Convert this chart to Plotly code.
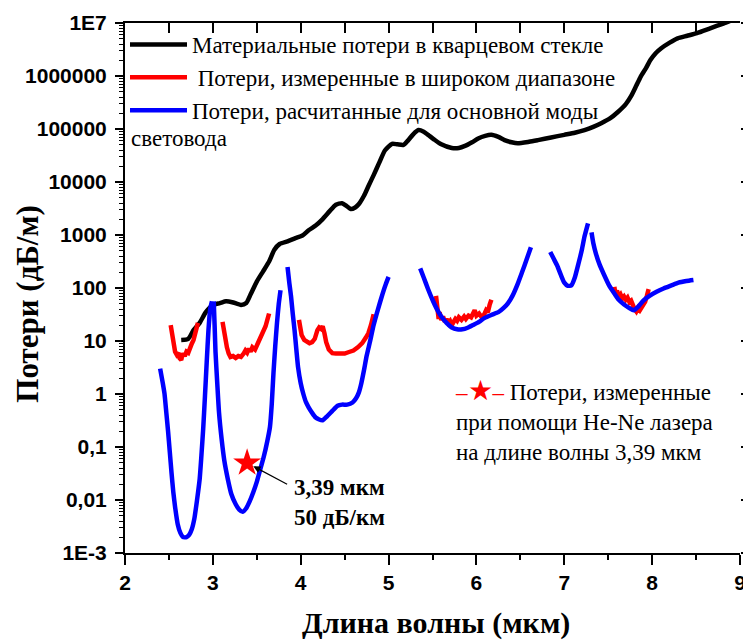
import plotly.graph_objects as go

# ---------------- data ----------------
# Material losses in silica glass (dB/m)
black_x = [2.64, 2.72, 2.78, 2.85, 2.92, 3.00, 3.08, 3.15, 3.22, 3.32, 3.38, 3.43, 3.50, 3.57,
           3.64, 3.70, 3.76, 3.85, 3.94, 4.02, 4.09, 4.17, 4.25, 4.33, 4.40, 4.47, 4.52, 4.57,
           4.62, 4.66, 4.72, 4.77, 4.83, 4.89, 4.96, 5.04, 5.10, 5.17, 5.22, 5.28, 5.34, 5.40,
           5.45, 5.52, 5.60, 5.72, 5.80, 5.87, 5.95, 6.02, 6.10, 6.17, 6.25, 6.32, 6.40, 6.47,
           6.60, 6.70, 6.85, 7.00, 7.12, 7.23, 7.33, 7.42, 7.52, 7.61, 7.70, 7.76, 7.82, 7.87,
           7.93, 7.98, 8.04, 8.10, 8.20, 8.29, 8.40, 8.51, 8.66, 8.81, 8.92]
black_y = [10.5, 11, 16, 22, 35, 48, 52, 56, 54, 48, 52, 76, 132, 204,
           316, 525, 676, 759, 871, 977, 1230, 1510, 2000, 2820, 3720, 3980, 3550, 3090,
           3310, 3800, 5500, 8300, 13500, 22400, 39800, 52500, 51300, 50100, 60300, 79400, 95500, 89100,
           77600, 63100, 51300, 43700, 43700, 47900, 56200, 66100, 74100, 77600, 70800, 61700, 56200, 53700,
           57500, 61700, 69200, 77600, 85100, 95500, 110000, 129000, 158000, 209000, 295000, 417000, 661000, 977000,
           1410000, 2000000, 2690000, 3310000, 4270000, 5130000, 5750000, 6460000, 7940000, 9770000, 11500000]

# Losses measured over a wide range (dB/m), five separate bands
red_x1 = [2.52, 2.53, 2.54, 2.55, 2.57, 2.59, 2.61, 2.62, 2.64, 2.65, 2.66, 2.68, 2.70, 2.72, 2.74, 2.76, 2.78, 2.80, 2.82, 2.83]
red_y1 = [20, 16, 11, 7.9, 6.3, 5.5, 6.0, 4.8, 4.4, 5.2, 5.8, 5.2, 6.3, 6.0, 7.9, 8.9, 10.5, 14, 19, 22]
red_x2 = [3.11, 3.12, 3.14, 3.16, 3.18, 3.20, 3.23, 3.26, 3.29, 3.32, 3.35, 3.37, 3.39, 3.41, 3.43, 3.45, 3.48, 3.51, 3.54, 3.57, 3.60, 3.62, 3.64]
red_y2 = [23, 18, 11, 7.6, 5.8, 5.0, 5.2, 4.8, 5.2, 5.0, 5.8, 6.6, 6.0, 7.2, 6.3, 7.6, 6.9, 8.9, 11, 14, 19, 25, 33]
red_x3 = [3.98, 3.99, 4.01, 4.04, 4.07, 4.10, 4.13, 4.16, 4.19, 4.21, 4.23, 4.25, 4.27, 4.29, 4.32, 4.36, 4.40, 4.45,
          4.50, 4.55, 4.60, 4.65, 4.70, 4.74, 4.77, 4.80, 4.82, 4.83]
red_y3 = [25, 18, 13, 10.5, 9.5, 9.1, 9.5, 11, 16, 18, 17, 19, 14, 9.5, 6.9, 5.9, 5.8, 5.9,
          5.8, 6.2, 6.6, 7.6, 9.1, 11.5, 14, 20, 26, 32]
red_x4 = [5.54, 5.55, 5.56, 5.57, 5.58, 5.60, 5.62, 5.64, 5.66, 5.68, 5.70, 5.72, 5.74, 5.76, 5.78, 5.80,
          5.83, 5.86, 5.88, 5.91, 5.94, 5.96, 5.98, 6.00, 6.03, 6.06, 6.09, 6.11, 6.13, 6.15, 6.17]
red_y4 = [71, 45, 32, 26, 35, 25, 29, 23, 26, 22, 24, 20, 23, 26, 24, 28,
          25, 29, 26, 30, 28, 33, 38, 30, 33, 28, 32, 38, 35, 48, 60]
red_x5 = [7.57, 7.58, 7.60, 7.62, 7.64, 7.66, 7.68, 7.70, 7.72, 7.74, 7.76, 7.78, 7.80, 7.82, 7.84, 7.86,
          7.88, 7.90, 7.92, 7.94, 7.96]
red_y5 = [105, 79, 89, 69, 76, 63, 69, 60, 66, 55, 58, 46, 40, 36, 42, 38,
          44, 50, 55, 71, 95]

# Losses calculated for the fundamental mode of the fibre (dB/m)
blue_x1 = [2.40, 2.43, 2.45, 2.47, 2.49, 2.51, 2.53, 2.55, 2.57, 2.60, 2.63, 2.66, 2.70, 2.73, 2.76, 2.79,
           2.82, 2.85, 2.87, 2.89, 2.91, 2.93, 2.95, 2.97, 2.99]
blue_y1 = [3.0, 1.6, 1.0, 0.45, 0.2, 0.08, 0.032, 0.014, 0.0074, 0.0035, 0.0024, 0.002, 0.002, 0.0022, 0.0028, 0.0045,
           0.01, 0.025, 0.07, 0.22, 0.9, 4, 16, 40, 56]
blue_x2 = [3.01, 3.02, 3.03, 3.05, 3.07, 3.10, 3.13, 3.17, 3.21, 3.26, 3.30, 3.34, 3.38, 3.42, 3.46, 3.50,
           3.54, 3.58, 3.62, 3.65, 3.67, 3.69, 3.71, 3.73, 3.75, 3.77]
blue_y2 = [56, 20, 6.3, 1.6, 0.45, 0.14, 0.056, 0.025, 0.013, 0.0083, 0.0066, 0.006, 0.007, 0.0095, 0.014, 0.022,
           0.038, 0.066, 0.13, 0.24, 0.63, 2.5, 8, 22, 50, 91]
blue_x3 = [3.85, 3.87, 3.89, 3.91, 3.93, 3.95, 3.97, 4.00, 4.03, 4.06, 4.09, 4.13, 4.17, 4.21, 4.25, 4.30,
           4.36, 4.42, 4.47, 4.53, 4.59, 4.63, 4.66, 4.69, 4.72, 4.75, 4.79, 4.83, 4.88, 4.93, 4.97, 5.00]
blue_y3 = [250, 126, 69, 32, 16, 7, 3.2, 1.6, 1.0, 0.7, 0.56, 0.44, 0.36, 0.33, 0.32, 0.38,
           0.48, 0.6, 0.63, 0.63, 0.69, 0.83, 1.05, 1.6, 2.8, 5.2, 10, 20, 40, 76, 120, 162]
blue_x4 = [5.36, 5.40, 5.45, 5.50, 5.55, 5.60, 5.66, 5.72, 5.78, 5.84, 5.90, 5.96, 6.03, 6.09, 6.17, 6.25,
           6.31, 6.36, 6.41, 6.47, 6.52, 6.57, 6.62]
blue_y4 = [234, 158, 95, 60, 40, 29, 22, 18, 16.6, 16.6, 17.8, 20, 23, 27, 31, 35,
           42, 52, 71, 120, 200, 340, 590]
blue_x5 = [6.84, 6.88, 6.92, 6.96, 7.00, 7.04, 7.08, 7.12, 7.16, 7.20, 7.23, 7.27]
blue_y5 = [480, 355, 263, 178, 126, 110, 112, 158, 282, 525, 933, 1660]
blue_x6 = [7.31, 7.33, 7.36, 7.40, 7.45, 7.51, 7.57, 7.62, 7.68, 7.74, 7.79, 7.85, 7.90, 7.97, 8.05, 8.13,
           8.22, 8.30, 8.39, 8.47]
blue_y6 = [1120, 708, 447, 282, 182, 112, 79, 60, 49, 42, 38, 46, 58, 71, 85, 98,
           112, 126, 135, 141]

# He-Ne laser measurement
star_x = [3.39]
star_y = [0.05]

y_tickvals = [1e-3, 1e-2, 1e-1, 1, 10, 100, 1000, 1e4, 1e5, 1e6, 1e7]
y_ticktext = ["1E-3", "0,01", "0,1", "1", "10", "100", "1000", "10000", "100000", "1000000", "1E7"]

names = ["Материальные потери в кварцевом стекле",
         "\u00a0Потери, измеренные в широком диапазоне",
         "Потери, расчитанные для основной моды"]


def join(segs):
    xs, ys = [], []
    for sx, sy in segs:
        if xs:
            xs.append(None)
            ys.append(None)
        xs += sx
        ys += sy
    return xs, ys


rx, ry = join([(red_x1, red_y1), (red_x2, red_y2), (red_x3, red_y3), (red_x4, red_y4), (red_x5, red_y5)])
bx, by = join([(blue_x1, blue_y1), (blue_x2, blue_y2), (blue_x3, blue_y3), (blue_x4, blue_y4),
               (blue_x5, blue_y5), (blue_x6, blue_y6)])

SERIF = "Liberation Serif"
SANS = "Liberation Sans"

fig = go.Figure()
fig.add_trace(go.Scatter(x=black_x, y=black_y, mode="lines", name=names[0],
                         line=dict(color="#000000", width=4.5, shape="spline", smoothing=0.6)))
fig.add_trace(go.Scatter(x=rx, y=ry, mode="lines", name=names[1], connectgaps=False,
                         line=dict(color="#ff0000", width=4.5)))
fig.add_trace(go.Scatter(x=bx, y=by, mode="lines", name=names[2], connectgaps=False,
                         line=dict(color="#0000ff", width=4.5, shape="spline", smoothing=0.5)))
fig.add_trace(go.Scatter(x=star_x, y=star_y, mode="markers", showlegend=False,
                         marker=dict(symbol="star", size=21, color="#ff0000", line=dict(width=0))))
# helper trace for the mirrored top/right axes
fig.add_trace(go.Scatter(x=[], y=[], xaxis="x2", yaxis="y2", showlegend=False, hoverinfo="skip"))

fig.update_layout(
    width=743, height=635,
    margin=dict(l=117, r=11, t=15, b=90),
    paper_bgcolor="white", plot_bgcolor="white",
    showlegend=True,
    legend=dict(x=0.0, y=1.0, xanchor="left", yanchor="top", bgcolor="rgba(0,0,0,0)",
                font=dict(family=SERIF, size=23, color="black"), tracegroupgap=0,
                itemwidth=57),
    xaxis=dict(range=[2, 9], dtick=1, tick0=2, showgrid=False, zeroline=False, automargin=False,
               showline=True, linecolor="black", linewidth=2,
               ticks="outside", ticklen=10, tickwidth=2, tickcolor="black",
               tickfont=dict(family=SANS, size=21, color="black", weight="bold"),
               minor=dict(dtick=0.5, ticks="outside", ticklen=5, tickwidth=2, tickcolor="black", showgrid=False)),
    yaxis=dict(type="log", range=[-3, 7], tickmode="array", tickvals=y_tickvals, ticktext=y_ticktext,
               showgrid=False, zeroline=False, showline=True, linecolor="black", linewidth=2, automargin=False,
               ticks="outside", ticklen=8, tickwidth=2, tickcolor="black", ticklabelstandoff=4,
               tickfont=dict(family=SANS, size=21, color="black", weight="bold"),
               minor=dict(dtick="D1", ticks="outside", ticklen=4, tickwidth=1, tickcolor="black", showgrid=False)),
    xaxis2=dict(overlaying="x", side="top", anchor="y2", range=[2, 9], dtick=0.5, tick0=2, automargin=False,
                showgrid=False, zeroline=False, showline=True, linecolor="black", linewidth=2,
                ticks="inside", ticklen=10, tickwidth=2, tickcolor="black", showticklabels=False),
    yaxis2=dict(overlaying="y", side="right", anchor="x2", type="log", range=[-3, 7], dtick=1, automargin=False,
                showgrid=False, zeroline=False, showline=False,
                ticks="outside", ticklen=5, tickwidth=2, tickcolor="black", showticklabels=False),
    annotations=[
        dict(text="световода", xref="paper", yref="paper", x=0.006, y=0.783, xanchor="left", yanchor="middle",
             showarrow=False, font=dict(family=SERIF, size=23, color="black")),
        dict(text="Потери (дБ/м)", xref="paper", yref="paper", x=-0.158, y=0.47, textangle=-90,
             xanchor="center", yanchor="middle", showarrow=False,
             font=dict(family=SERIF, size=31, color="black", weight="bold")),
        dict(text="Длина волны (мкм)", xref="paper", yref="paper", x=0.505, y=-0.132,
             xanchor="center", yanchor="middle", showarrow=False,
             font=dict(family=SERIF, size=30, color="black", weight="bold")),
        dict(text=" ", x=3.39, y=-1.301, xref="x", yref="y", showarrow=True, ax=43, ay=23,
             arrowhead=2, arrowsize=1.2, arrowwidth=1.2, arrowcolor="black", standoff=7),
        dict(text="3,39 мкм<br>50 дБ/км", x=3.90, y=-2.04, xref="x", yref="y", xanchor="left",
             yanchor="middle", align="left", showarrow=False,
             font=dict(family=SERIF, size=23, color="black", weight="bold")),
        dict(text="<span style='color:#ff0000'>–<span style='font-size:28px'>★</span>–</span> Потери, измеренные"
                  "<br>при помощи He-Ne лазера<br>на длине волны 3,39 мкм",
             x=5.73, y=0.40, xref="x", yref="y", xanchor="left", yanchor="top", align="left",
             showarrow=False, font=dict(family=SERIF, size=23, color="black")),
    ],
)

fig.write_html("out.html")
